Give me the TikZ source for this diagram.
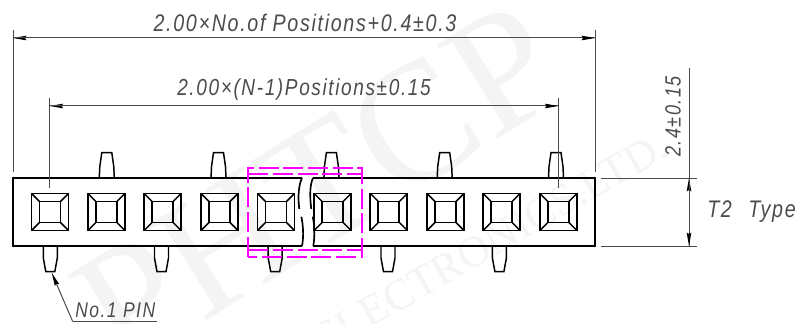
\documentclass[tikz,border=0pt]{standalone}
\usepackage{fontspec}
\usetikzlibrary{arrows.meta}
\setmainfont{Liberation Sans}
\newfontfamily\dimfont[ItalicFont={Liberation Sans Italic},FakeStretch=0.82,LetterSpace=7]{Liberation Sans}
\newfontfamily\markfont{Liberation Serif}
\definecolor{dimgray}{HTML}{4A4A4A}
\definecolor{markgray}{HTML}{F4F4F4}
\definecolor{framepink}{HTML}{FF00FF}
\tikzstyle{housing} = [line width=1.25pt, draw=black]
\tikzstyle{cell} = [rectangle, minimum size=27.75pt, inner sep=0pt, outer sep=0pt, line width=1.3pt, draw=black]
\tikzstyle{hole} = [rectangle, minimum size=15.75pt, inner sep=0pt, outer sep=0pt, line width=1.3pt, draw=black]
\tikzstyle{pin} = [line width=1.1pt, draw=black]
\tikzstyle{extline} = [line width=0.6pt, draw=dimgray]
\tikzstyle{arrow} = [line width=0.75pt, draw=dimgray, -{Stealth[length=10pt,width=3.4pt,inset=1pt,black]}]
\tikzstyle{detail} = [line width=1.5pt, draw=framepink, dash pattern=on 15pt off 3.5pt]
\tikzstyle{dimtext} = [font=\dimfont\itshape\fontsize{18}{18}\selectfont, text=black!70, inner sep=0pt]
\tikzstyle{watermark} = [font=\markfont, text=markgray, inner sep=0pt]

\begin{document}
\begin{tikzpicture}[x=0.75pt, y=-0.75pt]
\useasboundingbox (0,0) rectangle (802,324);

% Watermark
\begin{scope}
\clip (0,0) rectangle (802,324);
\node (mark_name) [watermark, rotate=32] at (318,186) {\fontsize{128}{128}\selectfont PHTCP};
\node (mark_firm) [watermark, rotate=30] at (490,243) {\fontsize{33}{33}\selectfont ELECTRONICS.LTD.};
\end{scope}

% Pins
\foreach \x in {106.8, 218.5, 331.4, 444.7, 556}
  \draw [pin] ({\x-7.5},178) -- ({\x-7},166.7) -- ({\x-5},152.7) -- ({\x+5},152.7) -- ({\x+7},166.7) -- ({\x+7.5},178);
\foreach \x in {50.3, 161.5, 275.2, 388, 499.4}
  \draw [pin] ({\x-7},246) -- ({\x-7},258) -- ({\x-4.5},271.7) -- ({\x+4.5},271.7) -- ({\x+7},258) -- ({\x+7},246);

% Housing, broken in the middle
\draw [housing] (302,178) -- (13,178) -- (13,246) -- (302,246);
\draw [housing] (313,178) -- (595,178) -- (595,246) -- (313.3,246);
\draw [housing] (302,178) .. controls (299,184) and (297.5,196) .. (299.3,209);
\draw [housing] (301.3,216.7) .. controls (303,224) and (304,236) .. (302,246);
\draw [housing] (313,178) .. controls (310,184) and (309.5,196) .. (311.3,209);
\draw [housing] (312.7,216.7) .. controls (314.5,224) and (315,236) .. (313.3,246);

% Contacts
\foreach \n/\x in {1/50, 2/106.3, 3/162.7, 4/219.5, 5/276, 6/332.6, 7/388.8, 8/445.5, 9/501.7, 10/558.4} {
  \node (cell\n) [cell] at (\x,212) {};
  \node (hole\n) [hole] at (\x,212) {};
  \draw [pin] (cell\n.north west) -- (hole\n.north west);
  \draw [pin] (cell\n.north east) -- (hole\n.north east);
  \draw [pin] (cell\n.south west) -- (hole\n.south west);
  \draw [pin] (cell\n.south east) -- (hole\n.south east);
}

% Magenta detail frame
\draw [detail] (248.3,256.7) -- (248.3,168.3) -- (361.7,168.3) -- (361.7,256.7) -- cycle;
\draw [detail] (248.3,174) -- (361.7,174);
\draw [detail] (248.3,250) -- (361.7,250);

% Overall length
\coordinate (top_l) at (13,38);
\coordinate (top_r) at (595,38);
\draw [extline] (13,30) -- (13,172);
\draw [extline] (595,30) -- (595,172);
\draw [arrow] (top_r) -- (top_l);
\draw [arrow] (top_l) -- (top_r);
\node (top_text) [dimtext] at (305,23) {2.00×No.of Positions+0.4±0.3};

% Pitch length
\coordinate (pitch_l) at (49.7,106);
\coordinate (pitch_r) at (558.4,106);
\draw [extline] (49.7,98) -- (49.7,188);
\draw [extline] (558.4,98) -- (558.4,188);
\draw [arrow] (pitch_r) -- (pitch_l);
\draw [arrow] (pitch_l) -- (pitch_r);
\node (pitch_text) [dimtext, font=\dimfont\itshape\fontsize{17.4}{18}\selectfont] at (304,89) {2.00×(N-1)Positions±0.15};

% Height
\coordinate (hgt_top) at (689,178);
\coordinate (hgt_low) at (689,246);
\coordinate (hgt_end) at (689,68);
\draw [extline] (601,178) -- (697,178);
\draw [extline] (601,246) -- (697,246);
\draw [extline] (hgt_end) -- (hgt_top);
\draw [arrow] (hgt_low) -- (hgt_top);
\draw [arrow] (hgt_top) -- (hgt_low);
\node (hgt_text) [dimtext, rotate=90, font=\dimfont\itshape\fontsize{16.5}{18}\selectfont] at (673,116.5) {2.4±0.15};
\node (type_text) [dimtext] at (751.5,212) {T2\hspace{7pt} Type};

% First pin leader
\node (pin_text) [dimtext, anchor=south west, font=\dimfont\itshape\fontsize{16}{16}\selectfont] at (75,318) {No.1 PIN};
\coordinate (pin_tip) at (51.7,272.7);
\coordinate (lead_knee) at (72.7,321.5);
\coordinate (lead_end) at (157,321.5);
\draw [extline] (lead_end) -- (lead_knee);
\draw [arrow] (lead_knee) -- (pin_tip);

\end{tikzpicture}
\end{document}
